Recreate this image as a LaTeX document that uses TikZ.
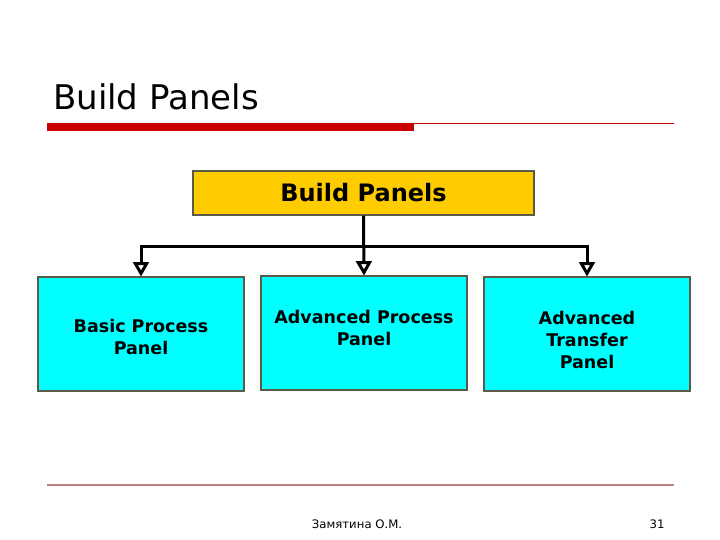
\documentclass[tikz,border=0pt]{standalone}
\usepackage{fontspec}
\setmainfont{DejaVu Sans}
\usepackage{xcolor}
\usepackage{tikz}
\usetikzlibrary{arrows, positioning, calc}
\definecolor{titlered}{RGB}{200, 0, 0}
\definecolor{footrose}{RGB}{192, 128, 128}
\definecolor{buildyellow}{RGB}{255, 204, 0}
\definecolor{panelcyan}{RGB}{0, 255, 255}
\definecolor{boxborder}{RGB}{90, 90, 70}
\newcommand{\paneltext}[2]{\raisebox{0pt}[\dimexpr\height+#1\relax][\depth]{\begin{tabular}{@{}c@{}}#2\end{tabular}}}
\tikzset{
    panelbox/.style={fill=panelcyan, draw=boxborder, line width=1.2pt, minimum width=206pt,
                     minimum height=114pt, align=center, font=\fontsize{17.5}{22}\selectfont\bfseries},
    branch/.style={draw=black, line width=3pt, -open triangle 60}
}

\begin{document}
\begin{tikzpicture}[x=1pt, y=-1pt]
    \useasboundingbox (0,0) rectangle (720,540);
    % heading
    \node[anchor=base west, inner sep=0pt, font=\fontsize{34}{38}\selectfont] (title) at (53,110) {Build Panels};
    \fill[titlered] (47,123) rectangle (414,131);
    \draw[titlered, line width=0.8pt] (414,123.5) -- (674,123.5);
    % top box
    \node[fill=buildyellow, draw=boxborder, line width=1.2pt, minimum width=341pt, minimum height=44pt,
          font=\fontsize{24}{26}\selectfont\bfseries] (build) at (363.5,193) {Build Panels};
    % panels
    \node[panelbox] (basic) at (141,334) {\paneltext{10pt}{Basic Process\\Panel}};
    \node[panelbox] (advproc) at (364,333) {Advanced Process\\Panel\\[-12pt]};
    \node[panelbox] (advtrans) at (587,334) {\paneltext{16pt}{Advanced\\Transfer\\Panel}};
    % connectors
    \coordinate (split) at (364,246);
    \draw[branch] (build.south) -- (advproc.north);
    \draw[branch] (split) -| (basic.north);
    \draw[branch] (split) -| (advtrans.north);
    % footer
    \draw[footrose, line width=1.5pt] (47,485) -- (674,485);
    \node[font=\fontsize{11.7}{14}\selectfont] (author) at (357,524) {Замятина О.М.};
    \node[font=\fontsize{11.7}{14}\selectfont] (pagenum) at (657,524) {31};
\end{tikzpicture}
\end{document}
